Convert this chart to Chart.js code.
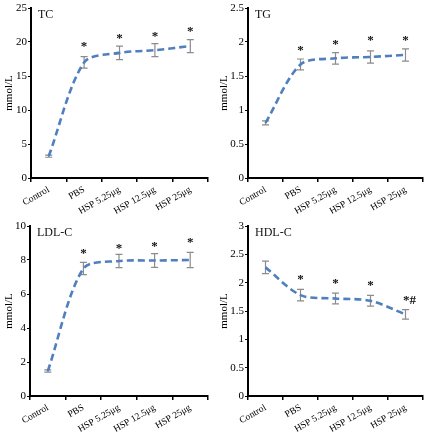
<!DOCTYPE html>
<html>
<head>
<meta charset="utf-8">
<script src="https://cdn.jsdelivr.net/npm/chart.js@4.4.0/dist/chart.umd.min.js"></script>
<style>
  body { margin: 0; background: #fff; }
  #wrap { display: grid; grid-template-columns: 215px 215px; grid-template-rows: 218px 218px; width: 430px; height: 436px; }
  .cell { position: relative; width: 215px; height: 218px; }
</style>
</head>
<body>
<div id="wrap">
  <div class="cell"><canvas id="tcChart"></canvas></div>
  <div class="cell"><canvas id="tgChart"></canvas></div>
  <div class="cell"><canvas id="ldlChart"></canvas></div>
  <div class="cell"><canvas id="hdlChart"></canvas></div>
</div>
<script>
// groups on the x axis
var groups = ['Control', 'PBS', 'HSP 5.25μg', 'HSP 12.5μg', 'HSP 25μg'];

// TC (mmol/L)
var tcMean = [3.2, 17.0, 18.4, 18.8, 19.4];
var tcErr = [0.15, 0.85, 1.0, 0.95, 0.95];
var tcMark = ['', '*', '*', '*', '*'];
var tcMarkAt = [null, 19.7, 21.0, 21.3, 22.0];

// TG (mmol/L)
var tgMean = [0.81, 1.67, 1.76, 1.78, 1.81];
var tgErr = [0.03, 0.08, 0.085, 0.09, 0.09];
var tgMark = ['', '*', '*', '*', '*'];
var tgMarkAt = [null, 1.92, 2.01, 2.06, 2.07];

// LDL-C (mmol/L)
var ldlMean = [1.47, 7.5, 7.94, 7.97, 8.0];
var ldlErr = [0.07, 0.36, 0.39, 0.4, 0.45];
var ldlMark = ['', '*', '*', '*', '*'];
var ldlMarkAt = [null, 8.57, 8.86, 8.96, 9.18];

// HDL-C (mmol/L)
var hdlMean = [2.27, 1.78, 1.72, 1.68, 1.44];
var hdlErr = [0.11, 0.1, 0.095, 0.095, 0.085];
var hdlMark = ['', '*', '*', '*', '*#'];
var hdlMarkAt = [null, 2.11, 2.03, 2.0, 1.73];

var serif = '"Liberation Serif", "DejaVu Serif", serif';

// error bars under the line, stars and panel name on top
var extrasPlugin = {
  id: 'extras',
  beforeDatasetsDraw: function(chart, args, opts) {
    var ctx = chart.ctx;
    var x = chart.scales.x, y = chart.scales.y;
    ctx.save();
    ctx.strokeStyle = '#8c8c8c';
    ctx.lineWidth = 1.2;
    opts.mean.forEach(function(m, i) {
      var px = x.getPixelForValue(i);
      var top = y.getPixelForValue(m + opts.err[i]);
      var bot = y.getPixelForValue(m - opts.err[i]);
      ctx.beginPath();
      ctx.moveTo(px, top); ctx.lineTo(px, bot);
      ctx.moveTo(px - 3.5, top); ctx.lineTo(px + 3.5, top);
      ctx.moveTo(px - 3.5, bot); ctx.lineTo(px + 3.5, bot);
      ctx.stroke();
    });
    ctx.restore();
  },
  afterDatasetsDraw: function(chart, args, opts) {
    var ctx = chart.ctx;
    var x = chart.scales.x, y = chart.scales.y;
    ctx.save();
    ctx.fillStyle = '#111';
    ctx.font = 'bold 13px ' + serif;
    ctx.textAlign = 'center';
    ctx.textBaseline = 'middle';
    opts.mark.forEach(function(s, i) {
      if (!s) return;
      var px = x.getPixelForValue(i) + (s.length > 1 ? 4 : 0);
      ctx.fillText(s, px, y.getPixelForValue(opts.markAt[i]) + 3);
    });
    ctx.font = '12px ' + serif;
    ctx.textAlign = 'left';
    ctx.textBaseline = 'top';
    ctx.fillText(opts.name, chart.chartArea.left + 7, chart.chartArea.top + 1);
    ctx.restore();
  }
};

function makePanel(id, name, mean, err, mark, markAt, yMax, yStep, yWidth) {
  var ctx = document.getElementById(id).getContext('2d');
  return new Chart(ctx, {
    type: 'line',
    data: {
      labels: groups,
      datasets: [{
        data: mean,
        borderColor: '#4f7fbf',
        borderWidth: 2.6,
        borderDash: [7, 4],
        tension: 0.3,
        pointRadius: 0,
        fill: false
      }]
    },
    options: {
      responsive: true,
      maintainAspectRatio: false,
      animation: false,
      layout: { padding: { top: 8, right: 7, left: 0, bottom: 0 } },
      plugins: {
        legend: { display: false },
        tooltip: { enabled: false },
        extras: { name: name, mean: mean, err: err, mark: mark, markAt: markAt }
      },
      scales: {
        x: {
          offset: true,
          grid: { offset: true, drawOnChartArea: false, drawTicks: true, tickLength: 4, color: '#000', lineWidth: 1.5 },
          border: { display: true, color: '#000', width: 2 },
          ticks: { color: '#000', font: { family: serif, size: 9.5 }, minRotation: 30, maxRotation: 30, autoSkip: false, padding: 2 },
          afterFit: function(s) { s.height = 40; }
        },
        y: {
          min: 0,
          max: yMax,
          grid: { drawOnChartArea: false, drawTicks: true, tickLength: 3, color: '#000' },
          border: { display: true, color: '#000', width: 2 },
          ticks: { stepSize: yStep, color: '#000', font: { family: serif, size: 11 }, padding: 1,
                   callback: function(v) { return String(+v.toFixed(2)); } },
          title: { display: true, text: 'mmol/L', color: '#000', font: { family: serif, size: 11 }, padding: { top: 3, bottom: 0 } },
          afterFit: function(s) { s.width = yWidth; }
        }
      }
    },
    plugins: [extrasPlugin]
  });
}

makePanel('tcChart', 'TC', tcMean, tcErr, tcMark, tcMarkAt, 25, 5, 31);
makePanel('tgChart', 'TG', tgMean, tgErr, tgMark, tgMarkAt, 2.5, 0.5, 33);
makePanel('ldlChart', 'LDL-C', ldlMean, ldlErr, ldlMark, ldlMarkAt, 10, 2, 30);
makePanel('hdlChart', 'HDL-C', hdlMean, hdlErr, hdlMark, hdlMarkAt, 3, 0.5, 33);
</script>
</body>
</html>
